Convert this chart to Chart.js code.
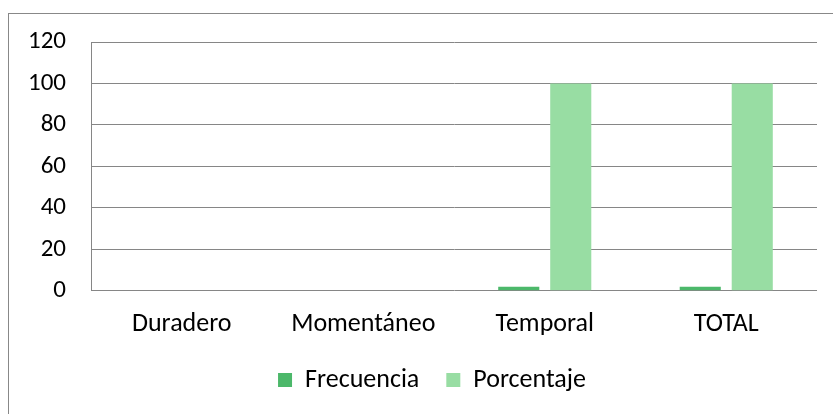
<!DOCTYPE html>
<html>
<head>
<meta charset="utf-8">
<script src="https://cdn.jsdelivr.net/npm/chart.js@4/dist/chart.umd.min.js"></script>
<style>
  html, body { margin: 0; padding: 0; background: #fff; overflow: hidden; }
  #wrap { position: relative; width: 833px; height: 414px; overflow: hidden; }
  #frame { position: absolute; left: 8px; top: 13px; width: 840px; height: 420px; border: 1px solid #888; }
  #chart { position: absolute; left: 0; top: 0; }
</style>
</head>
<body>
<div id="wrap">
  <div id="frame"></div>
  <canvas id="chart" width="833" height="414"></canvas>
</div>
<script>
// data
const categories = ['Duradero', 'Momentáneo', 'Temporal', 'TOTAL'];
const frecuencia = [0, 0, 2, 2];
const porcentaje = [0, 0, 100, 100];
const yTicks = [0, 20, 40, 60, 80, 100, 120];

const FONT = 'Carlito, Lato, "Open Sans", sans-serif';
const GRID = '#868686';

// legend sits a little right of the canvas centre in the original
const legendShift = {
  id: 'legendShift',
  afterLayout(chart) {
    const lg = chart.legend;
    if (!lg) return;
    lg.left += 22;
    lg.right += 22;
  }
};

const ctx = document.getElementById('chart').getContext('2d');
new Chart(ctx, {
  type: 'bar',
  data: {
    labels: categories,
    datasets: [
      { label: 'Frecuencia', data: frecuencia, backgroundColor: '#4CB86A' },
      { label: 'Porcentaje', data: porcentaje, backgroundColor: '#98DDA3' }
    ]
  },
  options: {
    responsive: false,
    animation: false,
    categoryPercentage: 0.573,
    barPercentage: 0.79,
    layout: { padding: { left: 3, right: 16, top: 42, bottom: 11 } },
    plugins: {
      tooltip: { enabled: false },
      legend: {
        position: 'bottom',
        labels: {
          color: '#000',
          boxWidth: 14,
          boxHeight: 14,
          padding: 27,
          font: { family: FONT, size: 26 }
        }
      }
    },
    scales: {
      x: {
        grid: { display: false, drawTicks: false },
        border: { display: false },
        // drop the padding chart.js also puts under the labels
        afterFit: s => { s.height -= s.options.ticks.padding; },
        ticks: {
          color: '#000',
          padding: 18,
          maxRotation: 0,
          autoSkip: false,
          font: { family: FONT, size: 26 }
        }
      },
      y: {
        min: 0,
        max: 120,
        afterBuildTicks: s => { s.ticks = yTicks.map(v => ({ value: v })); },
        grid: { color: GRID, lineWidth: 1, drawTicks: false },
        border: { display: true, color: GRID, width: 1 },
        ticks: {
          color: '#000',
          padding: 25,
          font: { family: FONT, size: 25 }
        }
      }
    }
  },
  plugins: [legendShift]
});
</script>
</body>
</html>
